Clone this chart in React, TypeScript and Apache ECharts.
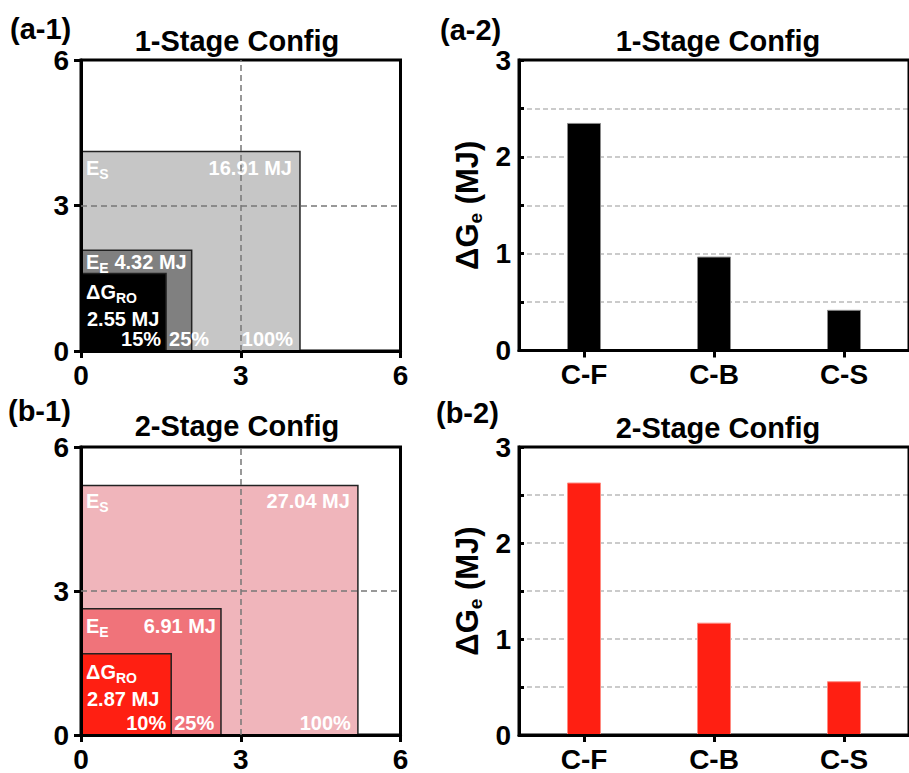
import React, { useEffect, useRef } from "react";
import * as echarts from "echarts";

// ---------- data ----------
const boxNames = [["E", "S"], ["E", "E"], ["ΔG", "RO"]];
const stage1Energies = [16.91, 4.32, 2.55]; // MJ: E_S, E_E, ΔG_RO
const stage2Energies = [27.04, 6.91, 2.87];
const stage1Pct = ["100%", "25%", "15%"];
const stage2Pct = ["100%", "25%", "10%"];
const squareTicks = [0, 3, 6];

const barCats = ["C-F", "C-B", "C-S"];
const stage1Bars = [2.35, 0.97, 0.42];
const stage2Bars = [2.63, 1.17, 0.56];

const panelTitles = ["1-Stage Config", "1-Stage Config", "2-Stage Config", "2-Stage Config"];
const panelTags = ["(a-1)", "(a-2)", "(b-1)", "(b-2)"];

// ---------- styles ----------
const FONT = '"Liberation Sans", Arial, Helvetica, sans-serif';
const grayFills = ["#c6c6c6", "#808080", "#000000"];
const redFills = ["#f0b5bb", "#f0737a", "#ff1f12"];

const RICH = {
  m: { fontSize: 20, fontWeight: "bold", fontFamily: FONT, fill: "#fff", lineHeight: 26 },
  s: { fontSize: 14, fontWeight: "bold", fontFamily: FONT, fill: "#fff", lineHeight: 14, verticalAlign: "bottom" },
};

function txt(x: number, y: number, text: string, align: string) {
  return {
    type: "text",
    x,
    y,
    z2: 10,
    style: {
      text,
      fill: "#fff",
      fontSize: 20,
      fontWeight: "bold",
      fontFamily: FONT,
      align,
      verticalAlign: "middle",
      rich: RICH,
    },
  };
}

function makeSquareRender(energies: number[], pcts: string[], fills: string[]) {
  return (params: any, api: any) => {
    const i = params.dataIndex;
    const s = api.value(0);
    const p0 = api.coord([0, 0]);
    const p1 = api.coord([s, s]);
    const x = p0[0];
    const y = p1[1];
    const right = p1[0];
    const bottom = p0[1];
    const sDG = Math.sqrt(energies[2]);
    const pDG = api.coord([sDG, sDG]);
    const name = `{m|${boxNames[i][0]}}{s|${boxNames[i][1]}}`;
    const val = `{m|${energies[i].toFixed(2)} MJ}`;
    const pct = `{m|${pcts[i]}}`;
    const children: any[] = [
      {
        type: "rect",
        shape: { x, y, width: right - x, height: bottom - y },
        style: { fill: fills[i], stroke: "#222", lineWidth: 1.5 },
      },
    ];
    if (i === 0) {
      children.push(txt(x + 5, y + 16, name, "left"));
      children.push(txt(right - 8, y + 16, val, "right"));
      children.push(txt(right - 7, bottom - 12, pct, "right"));
    } else if (i === 1) {
      const cy = Math.min(y + 17, (y + pDG[1]) / 2);
      children.push(txt(x + 5, cy, name, "left"));
      children.push(txt(right - 5, cy, val, "right"));
      children.push(txt(pDG[0] + 3, bottom - 12, pct, "left"));
    } else {
      children.push(txt(x + 5, y + 18, name, "left"));
      children.push(txt(x + 6, y + 45, val, "left"));
      children.push(txt(right - 5, bottom - 12, pct, "right"));
    }
    return { type: "group", children };
  };
}

const tickLabel = { fontSize: 28, fontWeight: "bold", color: "#000", fontFamily: FONT };
const blackLine = { color: "#000", width: 3 };

function squareAxes(gridIndex: number) {
  const common = {
    gridIndex,
    type: "value",
    min: squareTicks[0],
    max: squareTicks[squareTicks.length - 1],
    interval: squareTicks[1] - squareTicks[0],
    z: 3,
    axisLine: { show: true, lineStyle: blackLine },
    axisTick: { show: true, length: 7, lineStyle: blackLine },
    splitLine: { show: false },
  };
  return {
    x: { ...common, axisLabel: { ...tickLabel, margin: 10 } },
    y: { ...common, axisLabel: { ...tickLabel, margin: 12 } },
  };
}

function barAxes(gridIndex: number) {
  return {
    x: {
      gridIndex,
      type: "category",
      data: barCats,
      z: 3,
      axisLine: { show: true, lineStyle: blackLine },
      axisTick: { show: true, alignWithLabel: true, length: 7, lineStyle: blackLine },
      axisLabel: { ...tickLabel, margin: 10 },
      splitLine: { show: false },
    },
    y: {
      gridIndex,
      type: "value",
      min: 0,
      max: 3,
      interval: 0.5,
      axisLine: { show: true, lineStyle: blackLine },
      axisTick: { show: true, inside: true, length: 5, lineStyle: blackLine },
      axisLabel: {
        ...tickLabel,
        margin: 8,
        formatter: (v: number) => (Math.abs(v - Math.round(v)) < 1e-9 ? String(Math.round(v)) : ""),
      },
      splitLine: { show: true, lineStyle: { type: [5, 3], color: "#bbb", width: 1.5 } },
      name: "{a|ΔG}{b|e}{a| (MJ)}",
      nameLocation: "middle",
      nameGap: 34,
      nameTextStyle: {
        rich: {
          a: { fontSize: 31, fontWeight: "bold", fontFamily: FONT, color: "#000", lineHeight: 36 },
          b: { fontSize: 19, fontWeight: "bold", fontFamily: FONT, color: "#000", lineHeight: 19, verticalAlign: "bottom" },
        },
      },
    },
  };
}

export default function App() {
  const ref = useRef<HTMLDivElement>(null);
  useEffect(() => {
    if (!ref.current) return;
    const chart = echarts.init(ref.current, undefined, { renderer: "svg" });
    const a1 = squareAxes(0);
    const a2 = barAxes(1);
    const b1 = squareAxes(2);
    const b2 = barAxes(3);
    const gridBase = { show: true, borderColor: "#000", borderWidth: 3, z: 1, containLabel: false };
    const refLines = {
      symbol: "none",
      silent: true,
      label: { show: false },
      lineStyle: { type: [6, 4], color: "#777", width: 1.5 },
      data: [{ xAxis: 3 }, { yAxis: 3 }],
    };
    const titleText = (x: number, y: number, text: string, size: number, align: string) => ({
      type: "text",
      x,
      y,
      style: { text, fill: "#000", fontSize: size, fontWeight: "bold", fontFamily: FONT, align, verticalAlign: "middle" },
    });
    chart.setOption({
      animation: false,
      backgroundColor: "#fff",
      grid: [
        { ...gridBase, left: 81, top: 60, width: 319.5, height: 291 },
        { ...gridBase, left: 519, top: 60, width: 397.5, height: 290.5 },
        { ...gridBase, left: 81, top: 447, width: 319.5, height: 291 },
        { ...gridBase, left: 519, top: 447, width: 397.5, height: 291.5 },
      ],
      xAxis: [a1.x, a2.x, b1.x, b2.x],
      yAxis: [a1.y, a2.y, b1.y, b2.y],
      series: [
        {
          type: "custom",
          xAxisIndex: 0,
          yAxisIndex: 0,
          data: stage1Energies.map((e) => [Math.sqrt(e), Math.sqrt(e)]),
          renderItem: makeSquareRender(stage1Energies, stage1Pct, grayFills),
          markLine: refLines,
        },
        {
          type: "bar",
          xAxisIndex: 1,
          yAxisIndex: 1,
          data: stage1Bars,
          barWidth: 34,
          itemStyle: { color: "#000", borderColor: "#8a8a8a", borderWidth: 1 },
        },
        {
          type: "custom",
          xAxisIndex: 2,
          yAxisIndex: 2,
          data: stage2Energies.map((e) => [Math.sqrt(e), Math.sqrt(e)]),
          renderItem: makeSquareRender(stage2Energies, stage2Pct, redFills),
          markLine: refLines,
        },
        {
          type: "bar",
          xAxisIndex: 3,
          yAxisIndex: 3,
          data: stage2Bars,
          barWidth: 34,
          itemStyle: { color: "#ff1f12", borderColor: "#ff8a80", borderWidth: 1 },
        },
      ],
      graphic: [
        titleText(237, 41, panelTitles[0], 29, "center"),
        titleText(718, 41, panelTitles[1], 29, "center"),
        titleText(237, 426, panelTitles[2], 29, "center"),
        titleText(718, 428, panelTitles[3], 29, "center"),
        titleText(10, 29, panelTags[0], 29, "left"),
        titleText(440, 30, panelTags[1], 29, "left"),
        titleText(8, 411, panelTags[2], 29, "left"),
        titleText(436, 413, panelTags[3], 29, "left"),
      ],
    });
    return () => chart.dispose();
  }, []);
  return <div ref={ref} style={{ position: "absolute", left: 0, top: 0, width: 909, height: 773 }} />;
}
